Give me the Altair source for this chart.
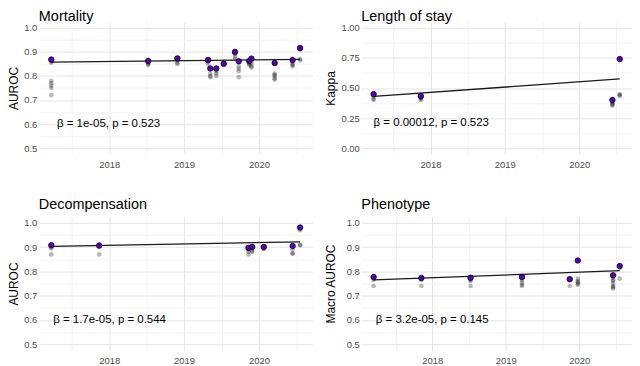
import altair as alt
import pandas as pd

FONT = "Liberation Sans"

# ---------------- Mortality ----------------
mort_best_date = [2017.225, 2018.52, 2018.91, 2019.32, 2019.35, 2019.43, 2019.53,
                  2019.68, 2019.73, 2019.87, 2019.90, 2020.21, 2020.45, 2020.55]
mort_best_auc = [0.868, 0.862, 0.873, 0.866, 0.831, 0.831, 0.851,
                 0.900, 0.861, 0.862, 0.872, 0.854, 0.866, 0.916]
mort_other_date = [2017.225] * 7 + [2018.52] * 3 + [2018.91] * 3 + [2019.32] * 2 + \
    [2019.35] * 3 + [2019.43] * 3 + [2019.53] * 2 + [2019.68] * 3 + [2019.73] * 4 + \
    [2019.87] * 3 + [2019.90] * 4 + [2020.21] * 6 + [2020.45] * 4 + [2020.55] * 3
mort_other_auc = [0.860, 0.855, 0.780, 0.770, 0.760, 0.750, 0.720,
                  0.855, 0.850, 0.845,
                  0.865, 0.855, 0.850,
                  0.860, 0.850,
                  0.810, 0.800, 0.795,
                  0.820, 0.810, 0.800,
                  0.850, 0.845,
                  0.890, 0.880, 0.870,
                  0.840, 0.830, 0.820, 0.795,
                  0.855, 0.850, 0.845,
                  0.860, 0.850, 0.840, 0.835,
                  0.850, 0.810, 0.805, 0.800, 0.790, 0.785,
                  0.860, 0.850, 0.845, 0.840,
                  0.910, 0.870, 0.865]
mort_line_date = [2017.225, 2020.55]
mort_line_auc = [0.857, 0.869]
mort_note_date = [2017.30]
mort_note_y = [0.60]
mort_note = ["\u03b2 = 1e-05, p = 0.523"]

# ---------------- Length of stay ----------------
los_best_date = [2017.234, 2017.87, 2020.447, 2020.545]
los_best_kappa = [0.449, 0.432, 0.400, 0.740]
los_other_date = [2017.234] * 3 + [2017.87] * 3 + [2020.447] * 4 + [2020.545] * 3
los_other_kappa = [0.430, 0.410, 0.400,
                   0.420, 0.410, 0.400,
                   0.380, 0.370, 0.360, 0.355,
                   0.450, 0.440, 0.435]
los_line_date = [2017.234, 2020.545]
los_line_kappa = [0.430, 0.575]
los_note_date = [2017.234]
los_note_y = [0.21]
los_note = ["\u03b2 = 0.00012, p = 0.523"]

# ---------------- Decompensation ----------------
dec_best_date = [2017.225, 2017.865, 2019.86, 2019.91, 2020.065, 2020.45, 2020.55]
dec_best_auc = [0.908, 0.907, 0.897, 0.901, 0.901, 0.905, 0.981]
dec_other_date = [2017.225] * 3 + [2017.865] * 2 + [2019.86] * 3 + [2019.91] * 3 + \
    [2020.065] * 2 + [2020.45] * 3 + [2020.55] * 3
dec_other_auc = [0.900, 0.895, 0.870,
                 0.900, 0.870,
                 0.890, 0.880, 0.870,
                 0.895, 0.885, 0.880,
                 0.895, 0.893,
                 0.890, 0.875, 0.873,
                 0.970, 0.910, 0.908]
dec_line_date = [2017.225, 2020.55]
dec_line_auc = [0.903, 0.922]
dec_note_date = [2017.25]
dec_note_y = [0.60]
dec_note = ["\u03b2 = 1.7e-05, p = 0.544"]

# ---------------- Phenotype ----------------
phe_best_date = [2017.20, 2017.85, 2018.52, 2019.22, 2019.87, 2019.98, 2020.46, 2020.55]
phe_best_auc = [0.777, 0.773, 0.774, 0.777, 0.768, 0.845, 0.784, 0.822]
phe_other_date = [2017.20] * 3 + [2017.85] * 2 + [2018.52] * 3 + [2019.22] * 4 + \
    [2019.87] * 1 + [2019.98] * 5 + [2020.46] * 7 + [2020.55] * 2
phe_other_auc = [0.770, 0.765, 0.740,
                 0.765, 0.740,
                 0.765, 0.760, 0.740,
                 0.765, 0.755, 0.745, 0.740,
                 0.740,
                 0.770, 0.760, 0.755, 0.750, 0.745,
                 0.775, 0.765, 0.760, 0.750, 0.740, 0.735, 0.730,
                 0.815, 0.770]
phe_line_date = [2017.20, 2020.55]
phe_line_auc = [0.765, 0.803]
phe_note_date = [2017.23]
phe_note_y = [0.60]
phe_note = ["\u03b2 = 3.2e-05, p = 0.145"]

PURPLE = "#5B00B5"


def panel(title, ytitle, best_x, best_y, oth_x, oth_y, line_x, line_y,
          note_x, note_y, note, ydom, yvals, ystep, yfmt, width, height,
          title_x, title_offset):
    allx = list(best_x) + list(oth_x)
    lo, hi = min(allx), max(allx)
    pad = 0.05 * (hi - lo)
    xdom = [lo - pad, hi + pad]

    minor_y = f"abs(datum.value/{ystep} - round(datum.value/{ystep})) > 0.01"
    yaxis = alt.Axis(
        values=yvals,
        labelExpr=f"{minor_y} ? '' : format(datum.value, '{yfmt}')",
        gridColor={"condition": {"test": minor_y, "value": "#f3f3f3"}, "value": "#e4e4e4"},
        gridWidth=1,
        domain=False, ticks=False,
        labelFont=FONT, labelFontSize=9.5, labelColor="#4d4d4d", labelPadding=2,
        title=ytitle, titleFont=FONT, titleFontSize=12, titleFontWeight="normal",
        titleColor="black", titleX=title_x, titleY=height / 2, titleAngle=270,
        titleAlign="center", titleBaseline="bottom",
    )
    minor_x = "abs(datum.value - round(datum.value)) > 0.01"
    xaxis = alt.Axis(
        values=[2017.5, 2018, 2018.5, 2019, 2019.5, 2020, 2020.5],
        labelExpr=f"{minor_x} ? '' : format(datum.value, 'd')",
        gridColor={"condition": {"test": minor_x, "value": "#f3f3f3"}, "value": "#e4e4e4"},
        gridWidth=1,
        domain=False, ticks=False,
        labelFont=FONT, labelFontSize=9.5, labelColor="#4d4d4d", labelPadding=5,
        title=None,
    )
    X = alt.X("date:Q", scale=alt.Scale(domain=xdom, nice=False, zero=False), axis=xaxis)
    Y = alt.Y("v:Q", scale=alt.Scale(domain=ydom, nice=False, zero=False), axis=yaxis)

    other = alt.Chart(pd.DataFrame({"date": oth_x, "v": oth_y})).mark_circle(
        size=22, color="black", opacity=0.28).encode(x=X, y=Y)
    line = alt.Chart(pd.DataFrame({"date": line_x, "v": line_y})).mark_line(
        color="#1a1a1a", strokeWidth=1.3).encode(x=X, y=Y)
    best = alt.Chart(pd.DataFrame({"date": best_x, "v": best_y})).mark_point(
        shape="circle", filled=True, fill=PURPLE, stroke="black", strokeWidth=0.8,
        size=30, opacity=1).encode(x=X, y=Y)
    txt = alt.Chart(pd.DataFrame({"date": note_x, "v": note_y, "t": note})).mark_text(
        align="left", baseline="middle", font=FONT, fontSize=11.5, color="black"
    ).encode(x=X, y=Y, text="t:N")

    return alt.layer(other, line, best, txt).properties(
        width=width, height=height,
        title=alt.TitleParams(title, anchor="start", frame="group", font=FONT,
                              fontSize=14.5, fontWeight="normal", color="black",
                              offset=title_offset),
    )


auroc_vals = [0.5, 0.55, 0.6, 0.65, 0.7, 0.75, 0.8, 0.85, 0.9, 0.95, 1.0]
kappa_vals = [0.0, 0.125, 0.25, 0.375, 0.5, 0.625, 0.75, 0.875, 1.0]

p1 = panel("Mortality", "AUROC", mort_best_date, mort_best_auc, mort_other_date,
           mort_other_auc, mort_line_date, mort_line_auc, mort_note_date, mort_note_y,
           mort_note, [0.475, 1.025], auroc_vals, 0.1, ".1f", 275, 133, -18, -3)
p2 = panel("Length of stay", "Kappa", los_best_date, los_best_kappa, los_other_date,
           los_other_kappa, los_line_date, los_line_kappa, los_note_date, los_note_y,
           los_note, [-0.05, 1.05], kappa_vals, 0.25, ".2f", 272, 133, -24, -3)
p3 = panel("Decompensation", "AUROC", dec_best_date, dec_best_auc, dec_other_date,
           dec_other_auc, dec_line_date, dec_line_auc, dec_note_date, dec_note_y,
           dec_note, [0.475, 1.025], auroc_vals, 0.1, ".1f", 275, 134, -18, 4)
p4 = panel("Phenotype", "Macro AUROC", phe_best_date, phe_best_auc, phe_other_date,
           phe_other_auc, phe_line_date, phe_line_auc, phe_note_date, phe_note_y,
           phe_note, [0.475, 1.025], auroc_vals, 0.1, ".1f", 272, 134, -24, 4)

chart = alt.concat(p1, p2, p3, p4, columns=2, spacing={"row": 28, "column": 12},
                   align="each").properties(padding=0).configure_view(strokeWidth=0)

chart.save("out.html", embed_options={"renderer": "svg", "actions": False})
